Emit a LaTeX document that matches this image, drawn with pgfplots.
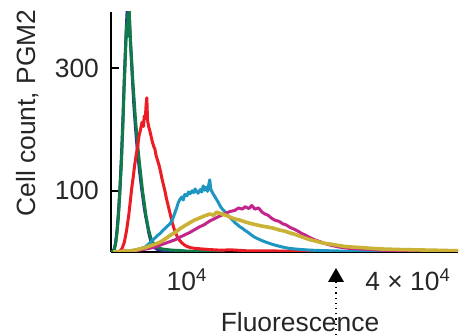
\documentclass[border=0pt]{standalone}
\usepackage{fontspec}
\setmainfont{Liberation Sans}
\usepackage{pgfplots}
\pgfplotsset{compat=1.18}
\definecolor{cnavy}{HTML}{2B3192}
\definecolor{cgreen}{HTML}{107A48}
\definecolor{cred}{HTML}{EC1C24}
\definecolor{ccyan}{HTML}{1D97C1}
\definecolor{cmag}{HTML}{C2268B}
\definecolor{cyel}{HTML}{CBB135}
\begin{document}
\begin{tikzpicture}[font=\fontsize{13.2}{15}\selectfont]
\useasboundingbox (-55.5pt,-42pt) rectangle (174.5pt,126pt);
\begin{axis}[at={(0,0)}, anchor=south west, scale only axis,
  width=173.5pt, height=120pt,
  xmin=-0.031, xmax=4.677, ymin=0, ymax=392,
  axis x line=bottom, axis y line=left,
  axis line style={-, line width=0.9pt, black},
  xtick={1,4}, xticklabels={10\textsuperscript{4}, 4 × 10\textsuperscript{4}},
  ytick={100,300}, yticklabels={100,300},
  tick align=inside, major tick length=4pt,
  ytick style={line width=0.9pt, black}, xtick style={draw=none},
  xticklabel style={yshift=-5pt}, yticklabel style={xshift=-2.5pt},
  tick label style={font=\fontsize{13.2}{15}\selectfont, text=black!85},
  every axis plot/.append style={line width=1.5pt, line join=round, mark=none},
  clip=true]
\addplot[cnavy] coordinates {(-0.03,0) (-0.01,1) (0.01,4) (0.03,14) (0.05,35) (0.07,65) (0.09,105) (0.11,155) (0.13,215) (0.145,270) (0.16,318) (0.175,360) (0.19,400) (0.2,420) (0.21,405) (0.22,380) (0.235,340) (0.25,305) (0.265,270) (0.28,238) (0.30,205) (0.32,175) (0.34,150) (0.36,128) (0.38,108) (0.40,90) (0.42,72) (0.44,58) (0.46,46) (0.48,32) (0.50,22) (0.52,14) (0.55,8) (0.6,4) (0.7,2) (0.8,1) (1.0,0.5) (1.5,0)};
\addplot[cgreen] coordinates {(-0.03,0) (-0.01,1) (0.01,3) (0.03,12) (0.05,30) (0.07,58) (0.09,98) (0.11,145) (0.13,205) (0.145,260) (0.16,305) (0.17,340) (0.18,370) (0.19,352) (0.20,390) (0.21,375) (0.215,398) (0.225,360) (0.24,330) (0.255,300) (0.27,270) (0.285,245) (0.30,218) (0.32,190) (0.34,163) (0.36,140) (0.38,118) (0.40,97) (0.42,80) (0.44,62) (0.46,48) (0.48,36) (0.50,27) (0.52,19) (0.55,13) (0.58,9) (0.62,7) (0.66,5) (0.72,4) (0.8,3) (0.9,2.5) (1.0,1.5) (1.1,1) (1.3,0.5) (1.5,0)};
\addplot[cred] coordinates {(0.05,0) (0.09,1) (0.12,6) (0.15,16) (0.18,35) (0.21,60) (0.23,82) (0.25,104) (0.27,122) (0.29,142) (0.31,158) (0.33,172) (0.35,190) (0.37,200) (0.39,212) (0.41,205) (0.42,222) (0.435,218) (0.445,240) (0.455,252) (0.465,215) (0.48,205) (0.50,196) (0.515,188) (0.53,180) (0.55,172) (0.565,168) (0.58,158) (0.60,150) (0.62,142) (0.64,132) (0.66,120) (0.68,110) (0.70,100) (0.72,88) (0.74,78) (0.76,68) (0.78,58) (0.80,48) (0.82,40) (0.84,32) (0.86,27) (0.88,22) (0.90,19) (0.93,15) (0.96,12) (1.0,9) (1.05,7) (1.1,6) (1.2,5) (1.3,4) (1.45,3) (1.6,3.5) (1.8,2) (2.0,2) (2.3,1.5) (2.6,1) (3.0,0.5) (3.3,0)};
\addplot[ccyan] coordinates {(0.1,0) (0.16,1) (0.25,2) (0.32,4) (0.38,6) (0.43,8) (0.47,12) (0.50,15) (0.53,19) (0.566,23) (0.60,27) (0.634,30) (0.67,35) (0.70,38) (0.73,42) (0.77,46) (0.80,52) (0.83,62) (0.86,72) (0.88,80) (0.905,86) (0.93,90) (0.95,85) (0.97,94) (1.0,92) (1.02,98) (1.04,95) (1.07,100) (1.09,97) (1.11,103) (1.13,99) (1.15,96) (1.18,102) (1.2,98) (1.22,108) (1.24,101) (1.26,106) (1.28,99) (1.30,113) (1.31,118) (1.32,104) (1.34,98) (1.36,94) (1.38,90) (1.40,86) (1.43,80) (1.45,75) (1.48,70) (1.52,65) (1.55,60) (1.58,57) (1.62,52) (1.65,48) (1.69,44) (1.72,41) (1.76,38) (1.79,35) (1.83,32) (1.86,29) (1.92,24) (1.99,20) (2.05,17) (2.12,14) (2.2,11) (2.30,8) (2.38,6) (2.46,5) (2.56,4) (2.67,3) (2.8,2.5) (2.94,2) (3.1,1.5) (3.35,1) (3.6,0.8) (3.9,0.5) (4.3,0.3) (4.68,0.2)};
\addplot[cmag] coordinates {(0.05,0) (0.09,1) (0.2,2) (0.36,3) (0.45,5) (0.566,8) (0.63,11) (0.70,14) (0.77,17) (0.84,20) (0.9,24) (0.97,28) (1.04,32) (1.11,37) (1.17,41) (1.24,45) (1.3,50) (1.38,55) (1.45,59) (1.52,63) (1.58,66) (1.65,68) (1.7,72) (1.75,70) (1.79,74) (1.84,71) (1.88,76) (1.92,70) (1.97,72) (2.02,65) (2.06,62) (2.1,60) (2.15,55) (2.19,52) (2.25,50) (2.3,46) (2.35,44) (2.4,40) (2.46,37) (2.52,33) (2.56,30) (2.6,28) (2.66,24) (2.73,20) (2.8,17) (2.87,14) (2.95,11) (3.07,8) (3.2,6) (3.35,5) (3.5,4) (3.62,3) (3.75,2.5) (3.89,2) (4.1,1.5) (4.3,1.5) (4.5,1) (4.68,1)};
\addplot[cyel, line width=1.8pt] coordinates {(0.0,0) (0.1,1) (0.23,2) (0.3,3) (0.36,5) (0.43,7) (0.50,10) (0.57,13) (0.634,16) (0.7,21) (0.77,27) (0.84,32) (0.905,38) (0.97,43) (1.04,48) (1.1,52) (1.18,56) (1.24,59) (1.31,62) (1.36,60) (1.4,65) (1.45,63) (1.5,61) (1.55,59) (1.58,57) (1.65,54) (1.72,52) (1.79,49) (1.85,47) (1.92,45) (1.99,43) (2.08,41) (2.17,39) (2.25,36) (2.33,34) (2.40,31) (2.46,29) (2.55,25) (2.62,22) (2.67,20) (2.74,18) (2.80,16) (2.87,14) (2.94,13) (3.04,11) (3.14,9) (3.25,8) (3.39,7) (3.5,6) (3.62,5) (3.75,4.5) (3.89,4) (4.1,3.5) (4.3,3) (4.5,2.5) (4.68,2)};
\end{axis}
\node[rotate=90, anchor=base, text=black!85] at (-37.5pt,69.5pt) {Cell count, PGM2};
\node[anchor=base, text=black!85] at (94.5pt,-40pt) {Fluorescence};
\fill[black] (112.5pt,-8pt) -- (108.5pt,-15pt) -- (116.5pt,-15pt) -- cycle;
\draw[black, line width=0.6pt, dotted] (112.5pt,-15pt) -- (112.5pt,-42pt);
\end{tikzpicture}
\end{document}
